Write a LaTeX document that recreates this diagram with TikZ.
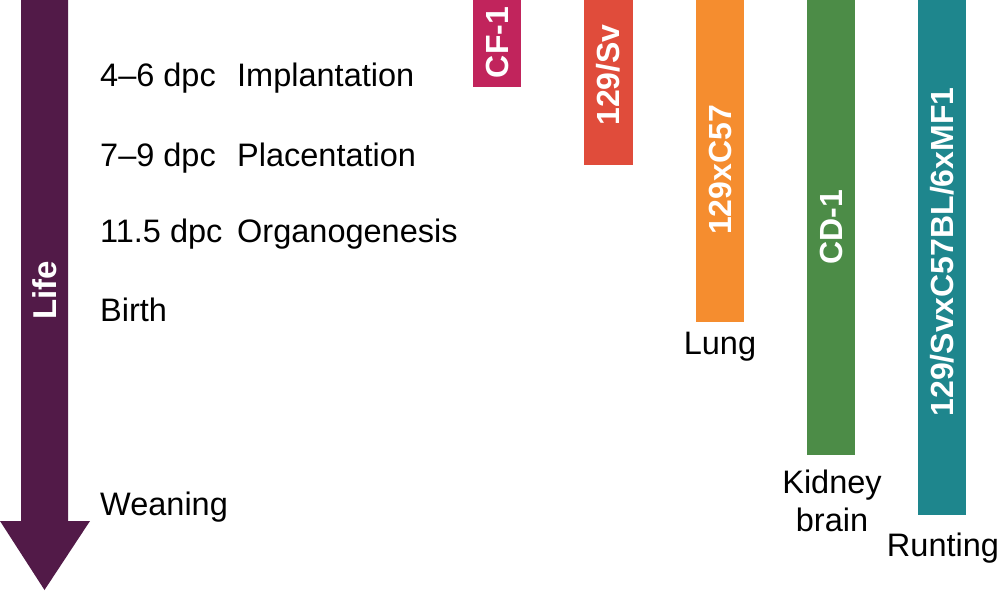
\documentclass[tikz,border=0pt]{standalone}
\usepackage{fontspec}
\setmainfont{Liberation Sans}
\definecolor{lifec}{HTML}{521A48}
\definecolor{cfc}{HTML}{C1245C}
\definecolor{svc}{HTML}{E04C3B}
\definecolor{c57c}{HTML}{F58D2F}
\definecolor{cdc}{HTML}{4C8C47}
\definecolor{tealc}{HTML}{1E868D}
\begin{document}
\begin{tikzpicture}[x=1pt,y=-1pt,
  lbl/.style={font=\fontsize{32.5}{37}\selectfont, text=black, inner sep=0pt},
  bartxt/.style={font=\fontsize{32}{34}\selectfont\bfseries, text=white, rotate=90, inner sep=0pt},
  bar/.style={draw=none}]
\useasboundingbox (0,0) rectangle (1004,592);
% Life arrow
\fill[lifec] (21,0) -- (68,0) -- (68,521) -- (90,521) -- (44.5,590) -- (0,521) -- (21,521) -- cycle;
\node[bartxt, font=\fontsize{33}{35}\selectfont\bfseries] (life) at (44.5,290) {Life};
% left labels
\node[lbl, anchor=base west] (d1) at (100,86) {4–6 dpc};
\node[lbl, anchor=base west] (e1) at (237,86) {Implantation};
\node[lbl, anchor=base west] (d2) at (100,166) {7–9 dpc};
\node[lbl, anchor=base west] (e2) at (237,166) {Placentation};
\node[lbl, anchor=base west] (d3) at (100,242) {11.5 dpc};
\node[lbl, anchor=base west] (e3) at (237,242) {Organogenesis};
\node[lbl, anchor=base west] (birth) at (100,321) {Birth};
\node[lbl, anchor=base west] (wean) at (100,515) {Weaning};
% bars
\fill[cfc] (473,0) rectangle (521,87);
\node[bartxt] (cf) at (497,42.5) {CF-1};
\fill[svc] (584,0) rectangle (633,165);
\node[bartxt] (sv) at (608.5,75) {129/Sv};
\fill[c57c] (696,0) rectangle (744,322);
\node[bartxt] (c57) at (720,170) {129xC57};
\fill[cdc] (807,0) rectangle (855,455);
\node[bartxt] (cd) at (831,227) {CD-1};
\fill[tealc] (918,0) rectangle (966,515);
\node[bartxt] (mf) at (942,252) {129/SvxC57BL/6xMF1};
% outcome labels
\node[lbl, anchor=base] (lung) at (720,354) {Lung};
\node[lbl, anchor=base] (kid) at (832,493) {Kidney};
\node[lbl, anchor=base] (brain) at (832,531) {brain};
\node[lbl, anchor=base] (runt) at (943,556) {Runting};
\end{tikzpicture}
\end{document}
